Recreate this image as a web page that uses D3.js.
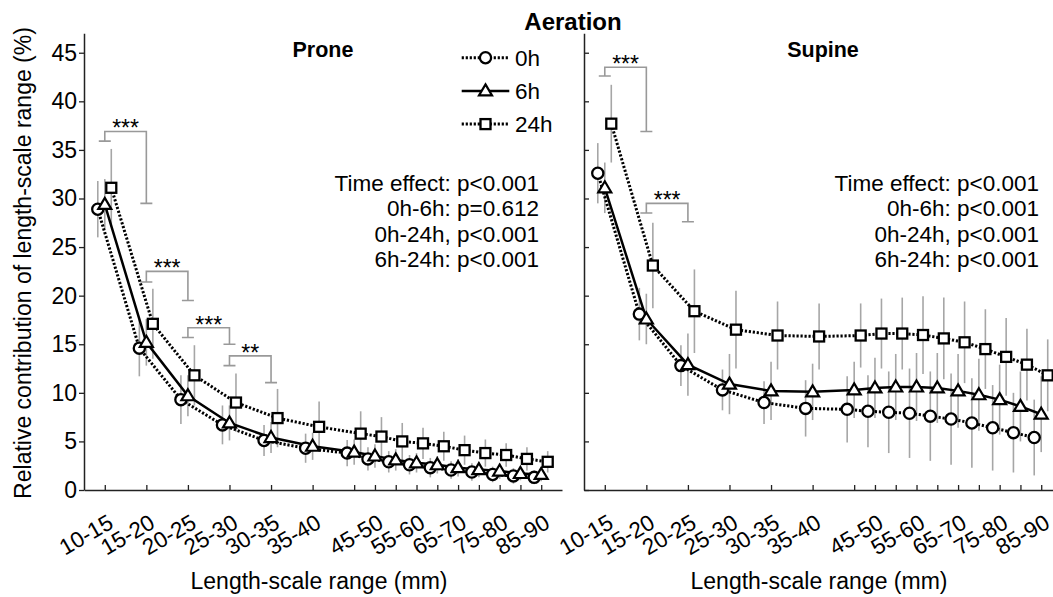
<!DOCTYPE html>
<html><head><meta charset="utf-8">
<script src="https://cdn.jsdelivr.net/npm/d3@7"></script>
<style>body{margin:0;background:#fff} text{font-family:"Liberation Sans", Arial, sans-serif;fill:#000}</style>
</head><body><svg id="c" width="1053" height="597"></svg>
<script>
// ---------- data ----------
const categories = ["10-15","15-20","20-25","25-30","30-35","35-40","40-45","45-50","50-55","55-60","60-65","65-70","70-75","75-80","80-85","85-90"];
const categoryAxisValue = [0,1,2,3,4,5,6,6.5,7,7.5,8,8.5,9,9.5,10,10.5];
const labeledCategories = ["10-15","15-20","20-25","25-30","30-35","35-40","45-50","55-60","65-70","75-80","85-90"];
const yTicks = [0,5,10,15,20,25,30,35,40,45];
const seriesNames = ["0h","6h","24h"];

const prone0h  = [28.9,14.6,9.3,6.7,5.1,4.3,3.8,3.2,2.9,2.6,2.3,2.06,1.85,1.6,1.45,1.3];
const prone6h  = [29.4,15.2,9.7,6.9,5.4,4.5,3.9,3.5,3.1,2.8,2.6,2.3,2.1,1.95,1.7,1.6];
const prone24h = [31.1,17.1,11.8,9.0,7.4,6.5,5.8,5.5,5.0,4.8,4.5,4.1,3.8,3.6,3.2,2.9];
const proneSD0h  = [2.9,2.9,2.5,2.0,1.6,1.5,1.35,1.2,1.1,1.0,1.0,0.9,0.9,0.8,0.8,0.7];
const proneSD6h  = [2.6,2.4,2.1,1.8,1.6,1.4,1.3,1.2,1.1,1.0,0.9,0.9,0.8,0.8,0.7,0.7];
const proneSD24h = [4.0,3.6,3.1,3.0,3.0,2.6,2.3,2.0,1.9,1.6,1.5,1.5,1.4,1.2,1.2,1.1];

const supine0h  = [32.6,18.1,12.8,10.3,9.0,8.4,8.3,8.1,8.0,7.9,7.6,7.3,6.9,6.4,5.9,5.4];
const supine6h  = [31.1,17.6,12.9,10.9,10.2,10.1,10.3,10.5,10.6,10.6,10.5,10.2,9.8,9.3,8.6,7.8];
const supine24h = [37.7,23.1,18.4,16.5,15.9,15.8,15.9,16.1,16.1,15.95,15.6,15.2,14.5,13.7,12.9,11.8];
const supineSD0h  = [3.1,2.7,2.1,2.1,2.2,2.9,3.4,3.7,4.2,4.6,4.6,4.7,4.6,4.4,4.1,3.9];
const supineSD6h  = [2.6,2.6,3.2,3.1,3.0,2.9,2.9,3.1,3.4,3.5,3.6,3.8,3.7,3.6,3.6,3.9];
const supineSD24h = [4.0,4.4,4.3,4.0,3.5,3.4,3.3,3.6,3.7,4.0,4.2,4.2,4.1,4.0,3.7,3.7];

const proneStats  = ["Time effect: p<0.001","0h-6h: p=0.612","0h-24h, p<0.001","6h-24h: p<0.001"];
const supineStats = ["Time effect: p<0.001","0h-6h: p<0.001","0h-24h, p<0.001","6h-24h: p<0.001"];

// significance brackets: [fromCategory, toCategory, leftEnd, rightEnd, top, label]
const proneBrackets = [
  ["10-15","15-20",35.9,29.5,36.9,"***"],
  ["15-20","20-25",21.4,19.5,22.5,"***"],
  ["20-25","25-30",15.7,15.0,16.7,"***"],
  ["25-30","30-35",12.8,11.05,13.8,"**"]
];
const supineBrackets = [
  ["10-15","15-20",42.6,36.9,43.5,"***"],
  ["15-20","20-25",28.5,27.6,29.5,"***"]
];

// ---------- layout ----------
const svg = d3.select("#c");
const y = d3.scaleLinear().domain([0,47]).range([490, 33.3]);
const seriesStyle = {
  "0h":  {dash:"2.2,1.8", width:3, marker:"circle", off:-7},
  "6h":  {dash:null, width:2.5, marker:"triangle", off:0},
  "24h": {dash:"2.2,1.8", width:3, marker:"square", off:6.5}
};
const panels = [
  {name:"Prone", x0:84, x1:562, vals:[prone0h,prone6h,prone24h], sds:[proneSD0h,proneSD6h,proneSD24h], stats:proneStats, brackets:proneBrackets, yLabels:true, legend:true},
  {name:"Supine", x0:584, x1:1062, vals:[supine0h,supine6h,supine24h], sds:[supineSD0h,supineSD6h,supineSD24h], stats:supineStats, brackets:supineBrackets, yLabels:false, legend:false}
];
const idx = c => categories.indexOf(c);

function drawMarker(g, type, cx, cy) {
  if (type === "circle") {
    g.append("circle").attr("cx",cx).attr("cy",cy).attr("r",5.6)
      .attr("fill","#fff").attr("stroke","#000").attr("stroke-width",2.3);
  } else if (type === "triangle") {
    const p = d3.path();
    p.moveTo(cx, cy-6.5); p.lineTo(cx+6.5, cy+4.5); p.lineTo(cx-6.5, cy+4.5); p.closePath();
    g.append("path").attr("d",p.toString()).attr("fill","#fff").attr("stroke","#000").attr("stroke-width",2.2).attr("stroke-linejoin","miter");
  } else {
    g.append("rect").attr("x",cx-5).attr("y",cy-5).attr("width",10).attr("height",10)
      .attr("fill","#fff").attr("stroke","#000").attr("stroke-width",2.3);
  }
}

panels.forEach(P => {
  const x = d3.scaleLinear().domain([-0.5, 11]).range([P.x0, P.x1]);
  const g = svg.append("g");

  // x axis
  const xa = g.append("g").attr("transform","translate(0,490)")
    .call(d3.axisBottom(x).tickValues(categoryAxisValue).tickSize(-5).tickSizeOuter(0).tickFormat(""));
  xa.select(".domain").attr("stroke","#222").attr("stroke-width",1.5);
  xa.selectAll(".tick line").attr("stroke","#222").attr("stroke-width",1.3);

  labeledCategories.forEach(c => {
    const xv = x(categoryAxisValue[idx(c)]);
    g.append("text").attr("transform",`translate(${xv+10},527) rotate(-30)`)
      .attr("text-anchor","end").attr("font-size",22.5).text(c);
  });
  g.append("text").attr("x",(P.x0+P.x1)/2-4).attr("y",589).attr("text-anchor","middle")
    .attr("font-size",23).text("Length-scale range (mm)");

  // y axis
  const ya = g.append("g").attr("transform",`translate(${P.x0},0)`)
    .call(d3.axisLeft(y).tickValues(yTicks).tickSize(P.yLabels ? 5 : -5).tickSizeOuter(0)
      .tickFormat(P.yLabels ? d3.format("d") : ""));
  ya.select(".domain").attr("stroke","#222").attr("stroke-width",1.5);
  ya.selectAll(".tick line").attr("stroke","#222").attr("stroke-width",1.3);
  ya.selectAll(".tick text").attr("font-size",23).attr("fill","#000")
    .attr("font-family",'"Liberation Sans", Arial, sans-serif').attr("x",-7);

  // panel title
  g.append("text").attr("x",(P.x0+P.x1)/2).attr("y",56.5).attr("text-anchor","middle")
    .attr("font-size",21.5).attr("font-weight","bold").text(P.name);

  // stats
  P.stats.forEach((s,i) => {
    g.append("text").attr("x",P.x0+455).attr("y",190.7+i*25.4).attr("text-anchor","end")
      .attr("font-size",22.5).text(s);
  });

  // error bars
  seriesNames.forEach((sn,si) => {
    const st = seriesStyle[sn];
    P.vals[si].forEach((v,i) => {
      const xv = x(categoryAxisValue[i]) + st.off;
      const sd = P.sds[si][i];
      g.append("line").attr("x1",xv).attr("x2",xv).attr("y1",y(v-sd)).attr("y2",y(v+sd))
        .attr("stroke","#a6a6a6").attr("stroke-width",1.6);
    });
  });

  // brackets
  P.brackets.forEach(b => {
    const xl = x(categoryAxisValue[idx(b[0])]), xr = x(categoryAxisValue[idx(b[1])]);
    const yl = y(b[2]), yr = y(b[3]), yt = y(b[4]);
    const p = d3.path();
    p.moveTo(xl-6, yl); p.lineTo(xl+6, yl);
    p.moveTo(xl, yl); p.lineTo(xl, yt); p.lineTo(xr, yt); p.lineTo(xr, yr);
    p.moveTo(xr-6, yr); p.lineTo(xr+6, yr);
    g.append("path").attr("d",p.toString()).attr("fill","none").attr("stroke","#999").attr("stroke-width",1.6);
    g.append("text").attr("x",(xl+xr)/2).attr("y",yt+5).attr("text-anchor","middle")
      .attr("font-size",23).text(b[5]);
  });

  // lines
  seriesNames.forEach((sn,si) => {
    const st = seriesStyle[sn];
    const line = d3.line().x((v,i) => x(categoryAxisValue[i]) + st.off).y(v => y(v));
    g.append("path").datum(P.vals[si]).attr("d",line).attr("fill","none")
      .attr("stroke","#000").attr("stroke-width",st.width)
      .attr("stroke-dasharray",st.dash);
  });
  // markers
  seriesNames.forEach((sn,si) => {
    const st = seriesStyle[sn];
    P.vals[si].forEach((v,i) => drawMarker(g, st.marker, x(categoryAxisValue[i]) + st.off, y(v)));
  });

  // legend
  if (P.legend) {
    seriesNames.forEach((sn,si) => {
      const st = seriesStyle[sn];
      const cy = 57.7 + si*33.2;
      g.append("line").attr("x1",461.7).attr("x2",509.3).attr("y1",cy).attr("y2",cy)
        .attr("stroke","#000").attr("stroke-width",st.width).attr("stroke-dasharray",st.dash);
      drawMarker(g, st.marker, 485.5, cy);
      g.append("text").attr("x",515).attr("y",cy+8).attr("font-size",22.5).text(sn);
    });
  }
});

// y label
svg.append("text").attr("transform","translate(31,263) rotate(-90)").attr("text-anchor","middle")
  .attr("font-size",23).text("Relative contribution of length-scale range (%)");
// main title
svg.append("text").attr("x",573).attr("y",30).attr("text-anchor","middle")
  .attr("font-size",24).attr("font-weight","bold").text("Aeration");
</script></body></html>
